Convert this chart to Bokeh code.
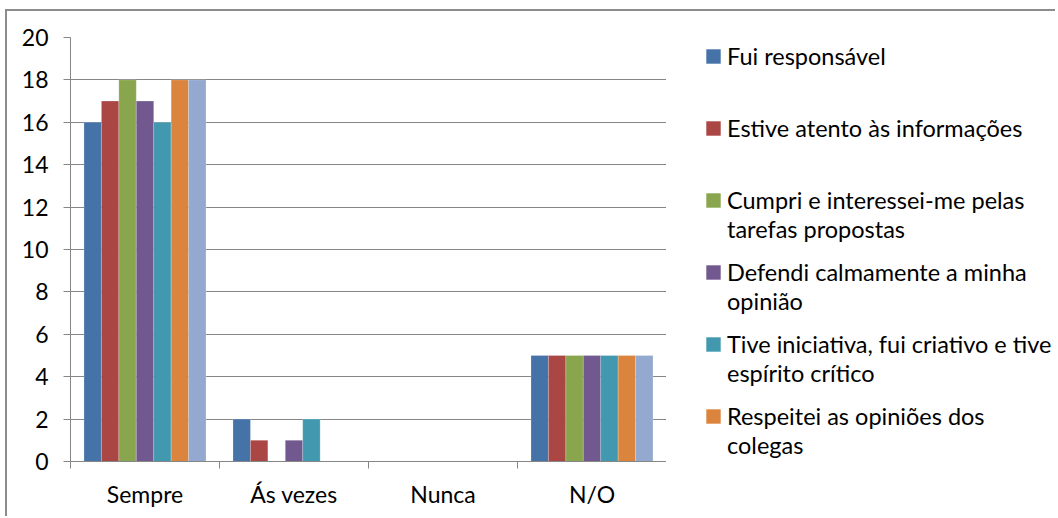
from bokeh.plotting import figure
from bokeh.layouts import row
from bokeh.models import (ColumnDataSource, Range1d, LinearAxis,
                          FixedTicker, Legend, LegendItem)
from bokeh.transform import dodge
from bokeh.embed import file_html
from bokeh.resources import INLINE

categories = ["Sempre", "Ás vezes", "Nunca", "N/O"]
series_names = [
    "Fui responsável",
    "Estive atento às informações",
    "Cumpri e interessei-me pelas\ntarefas propostas",
    "Defendi calmamente a minha\nopinião",
    "Tive iniciativa, fui criativo e tive\nespírito crítico",
    "Respeitei as opiniões dos\ncolegas",
    "Série 7",
]
fui_responsavel = [16, 2, 0, 5]
estive_atento = [17, 1, 0, 5]
cumpri = [18, 0, 0, 5]
defendi = [17, 1, 0, 5]
tive_iniciativa = [16, 2, 0, 5]
respeitei = [18, 0, 0, 5]
serie7 = [18, 0, 0, 5]
y_ticks = [0, 2, 4, 6, 8, 10, 12, 14, 16, 18, 20]

series = [fui_responsavel, estive_atento, cumpri, defendi, tive_iniciativa, respeitei, serie7]
colors = ["#4572A7", "#AA4643", "#89A54E", "#71588F", "#4198AF", "#DB843D", "#93A9CF"]

FONT = "Lato"
GRID = "#868686"

centers = [i + 0.5 for i in range(len(categories))]
bounds = [i for i in range(len(categories) + 1)]

data = {"x": centers}
for i, s in enumerate(series):
    data[f"s{i}"] = s
source = ColumnDataSource(data)

p = figure(x_range=Range1d(0, len(categories)), y_range=Range1d(0, 20),
           width=659, height=505, output_backend="svg", toolbar_location=None,
           x_axis_location=None, y_axis_location=None,
           min_border_left=63, min_border_right=0, min_border_top=26, min_border_bottom=55)
p.outline_line_color = None

bw = 0.117
for i in range(7):
    p.vbar(x=dodge("x", (i - 3) * bw), top=f"s{i}", width=bw,
           source=source, fill_color=colors[i], line_color="white", line_alpha=0.35,
           line_width=0.6)

# y axis
yax = LinearAxis(ticker=FixedTicker(ticks=y_ticks, minor_ticks=[]))
yax.axis_line_color = GRID
yax.major_tick_line_color = GRID
yax.major_tick_in = 0
yax.major_tick_out = 7
yax.major_label_standoff = 15
yax.major_label_text_font = FONT
yax.major_label_text_font_size = "23px"
yax.major_label_text_color = "#000000"
p.add_layout(yax, "left")

# x axis: labels at category centers, ticks at category boundaries
xax = LinearAxis(ticker=FixedTicker(ticks=centers, minor_ticks=bounds))
xax.major_label_overrides = {c: lab for c, lab in zip(centers, categories)}
xax.axis_line_color = GRID
xax.major_tick_line_color = None
xax.minor_tick_line_color = GRID
xax.minor_tick_in = 0
xax.minor_tick_out = 7
xax.major_label_standoff = 11
xax.major_label_text_font = FONT
xax.major_label_text_font_size = "23px"
xax.major_label_text_color = "#000000"
p.add_layout(xax, "below")

p.ygrid.grid_line_color = GRID
p.ygrid.ticker = FixedTicker(ticks=y_ticks)
p.xgrid.grid_line_color = None

# legend panel (the reference's legend is cut off after the sixth entry)
lf = figure(width=389, height=505, output_backend="svg", toolbar_location=None,
            x_range=Range1d(0, 1), y_range=Range1d(0, 1),
            x_axis_location=None, y_axis_location=None,
            min_border_left=0, min_border_right=0, min_border_top=0, min_border_bottom=0)
lf.outline_line_color = None
lf.grid.grid_line_color = None

first_items, second_items = [], []
for i in range(6):
    lines = series_names[i].split("\n")
    # zero-height proxy bar: draws nothing in the panel, but gives the legend a swatch
    sw_src = ColumnDataSource({"x": [0.5], "top": [0]})
    sw = lf.vbar(x="x", top="top", width=0.1, source=sw_src,
                 fill_color=colors[i], line_color=None)
    first_items.append(LegendItem(label=lines[0], renderers=[sw]))
    if len(lines) > 1:
        blank = lf.vbar(x=[], top=[], width=1, fill_alpha=0, line_alpha=0)
        second_items.append(LegendItem(label=lines[1], renderers=[blank]))

common = dict(padding=0, margin=0, border_line_color=None, background_fill_alpha=0,
              glyph_width=18, glyph_height=18, label_standoff=5, spacing=44,
              label_text_font=FONT, label_text_font_size="23.5px", label_text_color="#000000")
leg1 = Legend(items=first_items, location=(38, 31), **common)
leg2 = Legend(items=second_items, location=(38, 2), **common)
lf.add_layout(leg1, "center")
lf.add_layout(leg2, "center")

layout = row(p, lf)
layout.styles = {"border-left": "2px solid #8c8c8c", "border-top": "2px solid #8c8c8c",
                 "margin-left": "5px", "margin-top": "9px"}

open("out.html", "w").write(file_html(layout, INLINE))
